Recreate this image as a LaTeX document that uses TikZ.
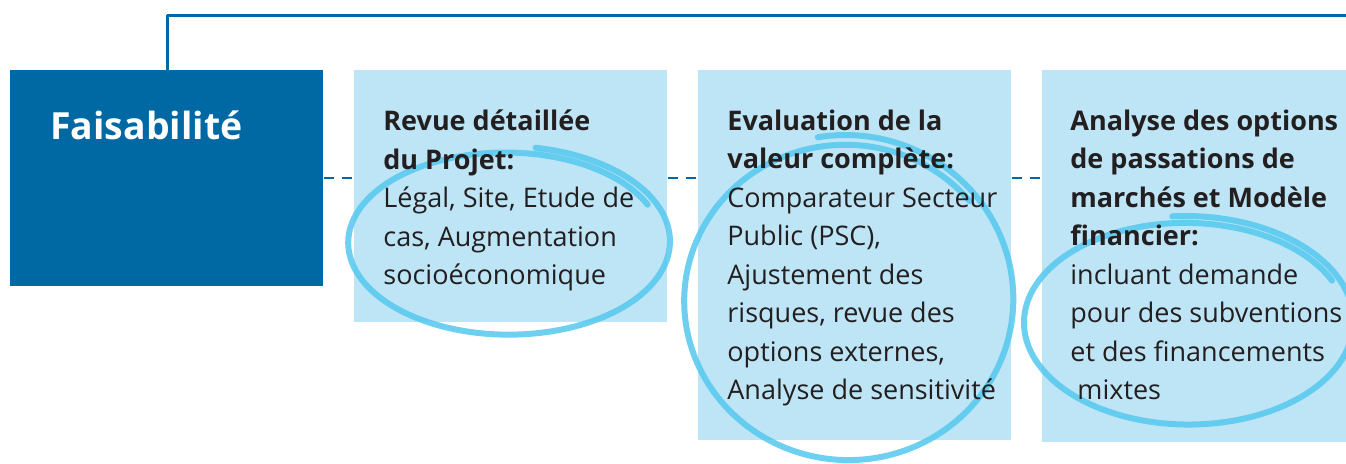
\documentclass[tikz,border=0pt]{standalone}
\usepackage{fontspec}
\setmainfont{Open Sans}
\usetikzlibrary{positioning}
\definecolor{fsblue}{HTML}{0069A4}
\definecolor{fslight}{HTML}{BEE5F6}
\definecolor{fsring}{HTML}{55C8EE}
\definecolor{fstext}{HTML}{231F20}

\begin{document}
\begin{tikzpicture}[line cap=round,line join=round,x=0.5pt,y=-0.5pt,
  stagebox/.style={fill=fslight,draw=none,anchor=north west,minimum width=156.5pt,inner sep=0pt},
  stagetext/.style={anchor=base west,align=left,inner sep=0pt,text=fstext,font=\fontsize{13.5}{19.25}\selectfont},
  dots/.style={draw=fsblue,line width=1pt,line cap=butt,dash pattern=on 5pt off 4pt},
  ring/.style={draw=fsring,line width=3pt,opacity=0.85}]
\useasboundingbox (0,0) rectangle (1346,464);
% boxes
\node [fill=fsblue,anchor=north west,minimum width=156.5pt,minimum height=108pt,inner sep=0pt] (feas) at (10,70) {};
\node [stagebox,minimum height=126pt] (revue) at (354,70) {};
\node [stagebox,minimum height=185pt] (valeur) at (698,70) {};
\node [stagebox,minimum height=186pt] (options) at (1042,70) {};
% frame line and links
\coordinate (topright) at (1350,16);
\draw [fsblue,line width=1.5pt,line cap=butt] ([xshift=78.5pt]feas.north west) |- (topright);
\draw [dots] ([yshift=-54pt]feas.north east) -- ([yshift=-54pt]revue.north west);
\draw [dots] ([yshift=-54pt]revue.north east) -- ([yshift=-54pt]valeur.north west);
\draw [dots] ([yshift=-54pt]valeur.north east) -- ([yshift=-54pt]options.north west);
% hand drawn rings
\draw [ring] plot[domain=-80:335,samples=140,smooth] ({507+160*(1.03-0.06*(\x+80)/415)*cos(\x)},{242+92*(1.04-0.08*(\x+80)/415)*sin(\x)});
\draw [ring] plot[domain=-100:320,samples=140,smooth] ({847+165*(1.02-0.05*(\x+100)/420)*cos(\x)},{300+162*(1.02-0.07*(\x+100)/420)*sin(\x)});
\draw [ring] plot[domain=-95:335,samples=140,smooth] ({1187+165*(1.02-0.05*(\x+95)/430)*cos(\x)},{322+103*(1.03-0.08*(\x+95)/430)*sin(\x)});
% texts (base = last line)
\node [anchor=base west,inner sep=0pt,text=white,font=\fontsize{18.7}{23}\selectfont\bfseries] (feastext) at (50,140) {Faisabilité};
\node [stagetext] (revuetext) at (383,285) {\textbf{Revue détaillée}\\\textbf{du Projet:}\\Légal, Site, Etude de\\cas, Augmentation\\socioéconomique};
\node [stagetext] (valeurtext) at (727,400) {\textbf{Evaluation de la}\\\textbf{valeur complète:}\\Comparateur Secteur\\Public (PSC),\\Ajustement des\\risques, revue des\\options externes,\\Analyse de sensitivité};
\node [stagetext] (optionstext) at (1070,400) {\textbf{Analyse des options}\\\textbf{de passations de}\\\textbf{marchés et Modèle}\\\textbf{financier:}\\incluant demande\\pour des subventions\\et des financements\\\ mixtes};
\end{tikzpicture}
\end{document}
